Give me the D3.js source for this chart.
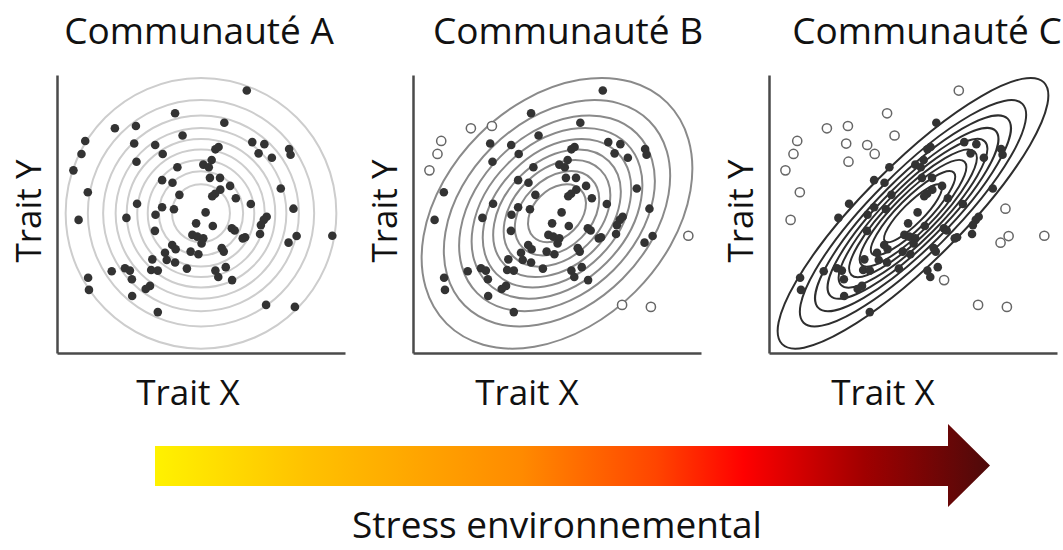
<!DOCTYPE html>
<html>
<head>
<meta charset="utf-8">
<script src="https://cdn.jsdelivr.net/npm/d3@7"></script>
<style>
body {
  margin: 0;
  background: #fff;
}
text {
  font-family: "Open Sans", "Noto Sans", sans-serif;
  fill: #111;
}
.axis path {
  stroke: #4a4a4a;
  stroke-width: 2.5;
}
</style>
</head>
<body>
<div id="plot"></div>

<script>
// titles of the 3 panels
var communities = ["Communauté A", "Communauté B", "Communauté C"];
var xLabel = "Trait X";
var yLabel = "Trait Y";
var stressLabel = "Stress environnemental";

// same individuals in every community (trait values, 0-100)
var traitX = [65.9, 41.0, 58.1, 20.1, 27.4, 43.6, 9.8, 26.8, 34.1, 67.8,
  72.0, 55.0, 56.1, 80.6, 81.1, 8.5, 36.7, 70.0, 74.6, 27.6,
  53.7, 50.8, 52.7, 5.7, 41.8, 53.1, 56.6, 36.5, 40.1, 60.1,
  77.7, 56.7, 54.9, 53.9, 10.7, 42.5, 62.1, 27.8, 67.3, 36.5,
  40.6, 82.1, 51.6, 34.2, 24.1, 72.8, 71.8, 70.8, 7.5, 48.3,
  54.1, 60.7, 61.7, 34.0, 47.0, 48.7, 50.8, 50.2, 70.5, 65.3,
  64.5, 83.2, 95.6, 80.4, 40.0, 41.2, 57.2, 57.9, 37.5, 46.4,
  49.1, 38.1, 33.1, 41.0, 23.6, 25.3, 19.0, 32.7, 35.0, 45.1,
  55.0, 58.6, 56.0, 60.8, 10.8, 26.0, 32.3, 30.8, 11.1, 26.1,
  72.6, 82.6, 35.0];
var traitY = [91.1, 83.2, 79.9, 78.0, 78.8, 75.5, 73.6, 72.7, 72.2, 73.2,
  72.5, 70.7, 71.5, 70.8, 68.8, 69.1, 69.1, 69.3, 67.8, 66.4,
  67.0, 65.4, 64.5, 63.4, 64.5, 60.8, 60.8, 60.0, 59.1, 58.0,
  57.1, 56.7, 55.3, 54.4, 55.8, 54.9, 53.7, 51.8, 51.7, 50.6,
  49.9, 50.1, 48.8, 48.0, 46.9, 47.3, 46.2, 44.4, 46.2, 45.0,
  44.1, 43.3, 42.5, 42.4, 41.0, 40.4, 39.8, 38.0, 41.3, 40.2,
  39.8, 40.6, 40.7, 38.3, 37.5, 36.0, 36.4, 35.2, 34.8, 35.2,
  34.3, 32.3, 32.5, 31.4, 29.4, 28.6, 28.4, 28.8, 28.6, 29.3,
  28.6, 29.8, 26.4, 25.3, 26.1, 25.6, 23.3, 22.2, 21.9, 19.8,
  16.7, 16.0, 14.2];

// individuals outside the viable envelope (open circles), per community
var excluded = [
  [],
  [3, 4, 6, 15, 23, 62, 90, 91],
  [0, 1, 3, 4, 5, 6, 7, 8, 15, 16, 19, 23, 34, 41, 48, 61, 62, 63, 83, 90, 91]
];

// envelope: bivariate normal, correlation grows with stress
var center = [50, 48.5];
var sigma = 21.9;
var correlation = [0, 0.33, 0.87];
var contourLevels = [0.9, 0.8, 0.7, 0.6, 0.5, 0.4, 0.3, 0.2, 0.1];

var W = 1063, H = 550;
var panelLeft = [57, 413, 769];
var plotW = 288, plotTop = 75, plotBottom = 353;
var ringColor = ["#cdcdcd", "#8a8a8a", "#2e2e2e"];
var titleShift = [142, 155, 158];
var xLabelShift = [131, 114, 114];

var svg = d3.select("#plot").append("svg")
  .attr("width", W)
  .attr("height", H);

var x = d3.scaleLinear().domain([0, 100]).range([0, plotW]);
var y = d3.scaleLinear().domain([0, 96.5]).range([plotBottom, plotTop]);

communities.forEach(function(name, p) {
  var g = svg.append("g")
    .attr("transform", "translate(" + panelLeft[p] + ",0)");

  // contour rings
  var rho = correlation[p];
  var cx = x(center[0]), cy = y(center[1]);
  g.selectAll(".ring")
    .data(contourLevels)
    .enter().append("ellipse")
    .attr("class", "ring")
    .attr("cx", cx)
    .attr("cy", cy)
    .attr("rx", function(l) { return x(Math.sqrt(-2 * Math.log(l)) * sigma * Math.sqrt(1 + rho)) - x(0); })
    .attr("ry", function(l) { return x(Math.sqrt(-2 * Math.log(l)) * sigma * Math.sqrt(1 - rho)) - x(0); })
    .attr("transform", "rotate(-45," + cx + "," + cy + ")")
    .style("fill", "none")
    .style("stroke", ringColor[p])
    .style("stroke-width", 2);

  // axes (no ticks)
  g.append("g")
    .attr("class", "axis")
    .attr("transform", "translate(0," + plotBottom + ")")
    .call(d3.axisBottom(x).tickValues([]).tickSizeOuter(0));
  g.append("g")
    .attr("class", "axis")
    .call(d3.axisLeft(y).tickValues([]).tickSizeOuter(0));

  // individuals
  var pts = traitX.map(function(v, i) {
    return {x: v, y: traitY[i], out: excluded[p].indexOf(i) >= 0};
  });
  g.selectAll(".dot")
    .data(pts)
    .enter().append("circle")
    .attr("class", "dot")
    .attr("cx", function(d) { return x(d.x); })
    .attr("cy", function(d) { return y(d.y); })
    .attr("r", function(d) { return d.out ? 4.6 : 4.3; })
    .style("fill", function(d) { return d.out ? "#fff" : "#333"; })
    .style("stroke", function(d) { return d.out ? "#666" : "none"; })
    .style("stroke-width", 1.5);

  // labels
  g.append("text")
    .attr("x", titleShift[p])
    .attr("y", 44)
    .attr("text-anchor", "middle")
    .style("font-size", "37px")
    .text(name);

  g.append("text")
    .attr("x", xLabelShift[p])
    .attr("y", 405)
    .attr("text-anchor", "middle")
    .style("font-size", "35px")
    .text(xLabel);

  g.append("text")
    .attr("transform", "translate(-16,211) rotate(-90)")
    .attr("text-anchor", "middle")
    .style("font-size", "35px")
    .text(yLabel);
});

// stress arrow
var grad = svg.append("defs").append("linearGradient")
  .attr("id", "stress")
  .attr("gradientUnits", "userSpaceOnUse")
  .attr("x1", 155).attr("x2", 990)
  .attr("y1", 0).attr("y2", 0);
[[0, "#fff200"], [0.18, "#ffc200"], [0.44, "#ff8a00"], [0.6, "#ff4500"],
 [0.705, "#ff0000"], [0.85, "#a00000"], [1, "#4d0a0a"]].forEach(function(s) {
  grad.append("stop").attr("offset", s[0]).attr("stop-color", s[1]);
});

svg.append("path")
  .attr("d", "M155,446 H948 V424 L990,465.5 L948,507 V486 H155 Z")
  .style("fill", "url(#stress)");

svg.append("text")
  .attr("x", 557)
  .attr("y", 538)
  .attr("text-anchor", "middle")
  .style("font-size", "37px")
  .text(stressLabel);
</script>
</body>
</html>
